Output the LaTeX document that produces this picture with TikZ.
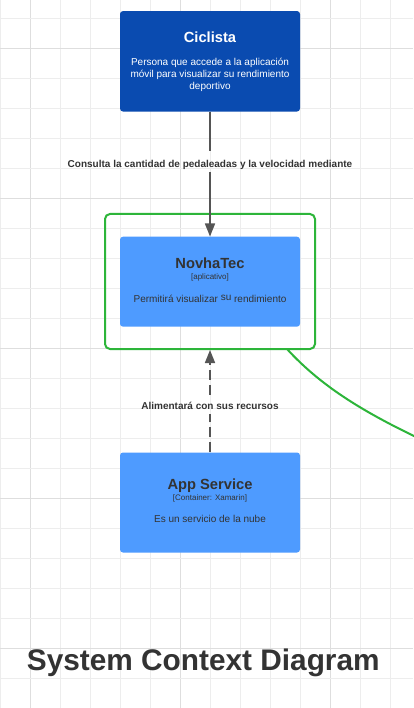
\documentclass[tikz,border=0pt]{standalone}
\usepackage{fontspec}
\setmainfont{Liberation Sans}
\usetikzlibrary{arrows.meta}
\definecolor{darkblue}{HTML}{0A4BB0}
\definecolor{lightblue}{HTML}{4E9BFF}
\definecolor{txtgray}{HTML}{333333}
\definecolor{linegray}{HTML}{555555}
\definecolor{frgreen}{HTML}{2DB53A}
\definecolor{gridminor}{HTML}{EDEDED}
\definecolor{gridmajor}{HTML}{DEDEDE}
\tikzset{
  boxdark/.style={fill=darkblue, rounded corners=3pt, inner sep=0pt, minimum width=180pt, minimum height=100.5pt},
  boxlight/.style={fill=lightblue, rounded corners=3pt, inner sep=0pt, minimum width=180pt, minimum height=100pt},
  ttl/.style={font=\bfseries\fontsize{14.7}{16}\selectfont, anchor=base, inner sep=0pt},
  tag/.style={font=\fontsize{8}{9}\selectfont, anchor=base, inner sep=0pt, text=txtgray},
  desc/.style={font=\fontsize{10}{12}\selectfont, anchor=base, inner sep=0pt},
  rellbl/.style={font=\bfseries\fontsize{10}{12}\selectfont, text=txtgray, anchor=base, inner sep=0pt},
  rel/.style={draw=linegray, line width=1.6pt},
  tip/.style={-{Triangle[length=13pt,width=10pt]}},
  frame/.style={draw=frgreen, line width=2pt, rounded corners=5pt, inner sep=0pt, minimum width=210pt, minimum height=135pt},
}
\begin{document}
\begin{tikzpicture}[x=1pt,y=-1pt]
\useasboundingbox (0,0) rectangle (413,708);
\fill[white] (0,0) rectangle (413,708);
% grid
\foreach \k in {0,...,13} {
  \pgfmathtruncatemacro{\m}{mod(\k,5)}
  \ifnum\m=1 \def\gc{gridmajor}\else\def\gc{gridminor}\fi
  \draw[\gc, line width=1pt] (0.7+30*\k,0) -- (0.7+30*\k,708);
}
\foreach \k in {0,...,23} {
  \pgfmathtruncatemacro{\m}{mod(\k,5)}
  \ifnum\m=1 \def\gc{gridmajor}\else\def\gc{gridminor}\fi
  \draw[\gc, line width=1pt] (0,18.3+30*\k) -- (413,18.3+30*\k);
}
% green frame and curve
\node[frame] (fr) at (210,281.5) {};
\coordinate (cend) at (416,437);
\draw[frgreen, line width=2pt] (287,349) .. controls (320,385) and (360,410) .. (cend);
% Ciclista
\node[boxdark] (cic) at (210,61.3) {};
\node[ttl, text=white] (cict) at (210,42.7) {Ciclista};
\node[desc, text=white] (cicd1) at (210,65.3) {Persona que accede a la aplicación};
\node[desc, text=white] (cicd2) at (210,77.3) {móvil para visualizar su rendimiento};
\node[desc, text=white] (cicd3) at (210,89.3) {deportivo};
% NovhaTec
\node[boxlight, minimum height=90pt] (nov) at (210,281.7) {};
\node[ttl, text=txtgray] (novt) at (210,268.3) {NovhaTec};
\node[tag] (novg) at (210,279.6) {[aplicativo]};
\node[desc, text=txtgray] (novd) at (210,302.3) {Permitirá visualizar \raisebox{1.5pt}{su} rendimiento};
% App Service
\node[boxlight] (app) at (210,502.5) {};
\node[ttl, text=txtgray] (appt) at (210,489) {App Service};
\node[tag] (appg) at (210,500.5) {[Container: Xamarin]};
\node[desc, text=txtgray] (appd) at (210,522.7) {Es un servicio de la nube};
% relation labels
\node[rellbl, text height=15.6pt, text depth=4.4pt] (l1) at (210,167.3) {Consulta la cantidad de pedaleadas y la velocidad mediante};
\node[rellbl, text height=14pt, text depth=5pt] (l2) at (210,409) {Alimentará con sus recursos};
% connectors
\draw[rel] (cic.south) -- (l1.north);
\draw[rel, tip] (l1.south) -- (nov.north);
\draw[rel, dash pattern=on 10pt off 5pt] (app.north) -- (l2.south);
\draw[rel, dash pattern=on 10pt off 5pt, tip] (l2.north) -- (fr.south);
% title
\node[font=\bfseries\fontsize{29.8}{34}\selectfont, text=txtgray, anchor=base, inner sep=0pt] (title) at (203.3,670.7) {System Context Diagram};
\end{tikzpicture}
\end{document}
